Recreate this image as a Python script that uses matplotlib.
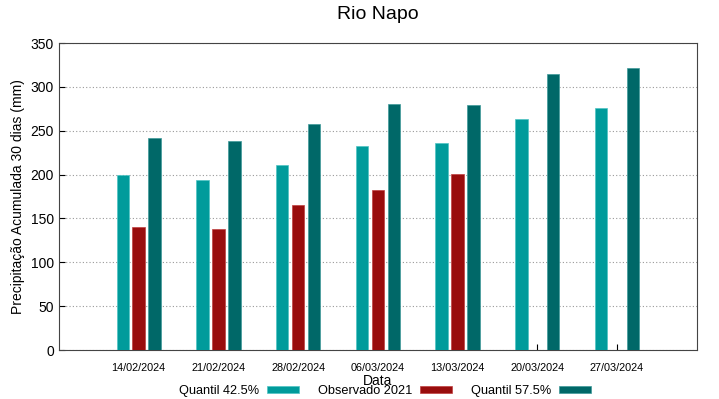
import matplotlib
matplotlib.use("Agg")
import matplotlib.pyplot as plt
import numpy as np

plt.rcParams['font.family'] = ['Liberation Sans', 'DejaVu Sans']

datas = ["14/02/2024", "21/02/2024", "28/02/2024", "06/03/2024",
         "13/03/2024", "20/03/2024", "27/03/2024"]
quantil_425 = [200, 194, 211, 233, 236, 263, 276]
observado = [140, 138, 165, 182, 201, np.nan, np.nan]
quantil_575 = [242, 238, 258, 281, 279, 315, 321]

fig = plt.figure(figsize=(7.19, 3.99), dpi=100)
ax = fig.add_axes([0.082, 0.1228, 0.887, 0.7694])

x = np.arange(len(datas))
w = 0.155
ax.bar(x - 0.2, quantil_425, w, color="#009b9b", edgecolor="#4fc4c4", linewidth=0.5,
       label="Quantil 42.5%", zorder=3)
ax.bar(x, observado, w, color="#990d0d", edgecolor="#c04040", linewidth=0.5,
       label="Observado 2021", zorder=3)
ax.bar(x + 0.2, quantil_575, w, color="#006868", edgecolor="#3f9a9a", linewidth=0.5,
       label="Quantil 57.5%", zorder=3)

ax.set_xlim(-1, 7)
ax.set_ylim(0, 350)
ax.set_yticks(range(0, 351, 50))
ax.set_xticks(x)
ax.set_xticklabels(datas, fontsize=7.8)
ax.tick_params(axis='x', direction='in', length=4, pad=9)
ax.tick_params(axis='y', direction='in', length=4, labelsize=10)
ax.yaxis.grid(True, linestyle=(0, (1, 2)), color="#999999", linewidth=0.8)
for s in ax.spines.values():
    s.set_color("#444444")
    s.set_linewidth(0.8)

ax.set_title("Rio Napo", fontsize=14, pad=17)
ax.set_ylabel("Precipitação Acumulada 30 dias (mm)", fontsize=10)
ax.set_xlabel("Data", fontsize=10, labelpad=1)

fig.legend(loc="lower center", bbox_to_anchor=(0.535, -0.025), ncol=3,
           markerfirst=False, frameon=False, fontsize=9.2,
           handlelength=2.5, handleheight=0.45, columnspacing=1.5, handletextpad=0.6)

fig.savefig("out.png", dpi=100)
